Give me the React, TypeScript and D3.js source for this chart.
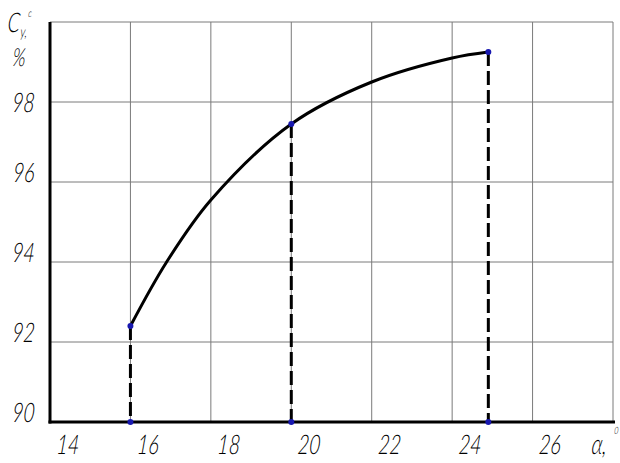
import React, { useEffect, useRef } from 'react'
import * as d3 from 'd3'

// curve (alpha, deg -> C_y^c, %)
const curveAlpha = [16, 16.9, 18, 20, 22, 24, 24.9]
const curveCy = [92.4, 94.0, 95.55, 97.45, 98.5, 99.1, 99.25]

// measured points with drop lines
const pointAlpha = [16, 20, 24.9]
const pointCy = [92.4, 97.45, 99.25]

const xTicks = [14, 16, 18, 20, 22, 24, 26]
const yTicks = [90, 92, 94, 96, 98]

const FONT = "Lato, 'DejaVu Sans', sans-serif"

const App = () => {
  const svgRef = useRef<SVGSVGElement>(null)

  useEffect(() => {
    document.body.style.margin = '0'
    const svg = d3.select(svgRef.current)
    svg.selectAll('*').remove()

    const x = d3.scaleLinear().domain([14, 28]).range([50, 613])
    const y = d3.scaleLinear().domain([90, 100]).range([422, 22])

    // narrow italic text like the drafting font
    const label = (tx: number, ty: number, s: string, size: number, anchor = 'start') =>
      svg.append('text')
        .attr('transform', `translate(${tx},${ty}) scale(0.72,1) skewX(-7)`)
        .attr('font-family', FONT)
        .attr('font-style', 'italic')
        .attr('font-weight', 300)
        .attr('font-size', size)
        .attr('text-anchor', anchor)
        .attr('fill', '#000')
        .text(s)

    // grid
    const grid = svg.append('g').attr('stroke', '#7a7a7a').attr('stroke-width', 1)
    grid
      .selectAll('.vgrid')
      .data([...xTicks.slice(1), 28])
      .join('line')
      .attr('x1', d => x(d))
      .attr('x2', d => x(d))
      .attr('y1', y(100))
      .attr('y2', y(90))
    grid
      .selectAll('.hgrid')
      .data([...yTicks.slice(1), 100])
      .join('line')
      .attr('x1', x(14))
      .attr('x2', x(28))
      .attr('y1', d => y(d))
      .attr('y2', d => y(d))

    // axes
    svg.append('line')
      .attr('x1', x(14)).attr('x2', x(14))
      .attr('y1', y(100)).attr('y2', y(90) + 1.5)
      .attr('stroke', '#000').attr('stroke-width', 3)
    svg.append('line')
      .attr('x1', x(14) - 1.5).attr('x2', x(28) + 2)
      .attr('y1', y(90)).attr('y2', y(90))
      .attr('stroke', '#000').attr('stroke-width', 3)

    // drop lines
    svg.selectAll('.drop')
      .data(pointAlpha)
      .join('line')
      .attr('x1', d => x(d))
      .attr('x2', d => x(d))
      .attr('y1', (d, i) => y(pointCy[i]))
      .attr('y2', y(90))
      .attr('stroke', '#000')
      .attr('stroke-width', 3)
      .attr('stroke-dasharray', '14,5')

    // curve
    const line = d3.line<number>()
      .x(d => x(d))
      .y((d, i) => y(curveCy[i]))
      .curve(d3.curveCatmullRom)
    svg.append('path')
      .attr('d', line(curveAlpha))
      .attr('fill', 'none')
      .attr('stroke', '#000')
      .attr('stroke-width', 3)

    // dots
    svg.selectAll('.dot')
      .data(pointAlpha)
      .join('circle')
      .attr('cx', d => x(d))
      .attr('cy', (d, i) => y(pointCy[i]))
      .attr('r', 3)
      .attr('fill', '#1818b0')
    svg.selectAll('.dot0')
      .data(pointAlpha)
      .join('circle')
      .attr('cx', d => x(d))
      .attr('cy', y(90))
      .attr('r', 3)
      .attr('fill', '#1818b0')

    // tick labels
    yTicks.forEach(d => label(34, y(d) + (d === 98 ? 10 : 0), String(d), 27, 'end'))
    xTicks.forEach(d => label(x(d) + 6, 454, String(d), 27))

    // axis titles
    label(7, 32, 'C', 27)
    label(20, 37, 'y,', 15)
    label(28, 17, 'c', 11)
    label(12, 66, '%', 25)
    label(591, 454, 'α,', 28)
    label(614, 434, '0', 10)
  }, [])

  return (
    <svg ref={svgRef} width={620} height={463} style={{ display: 'block', background: '#fff' }} />
  )
}

export default App
